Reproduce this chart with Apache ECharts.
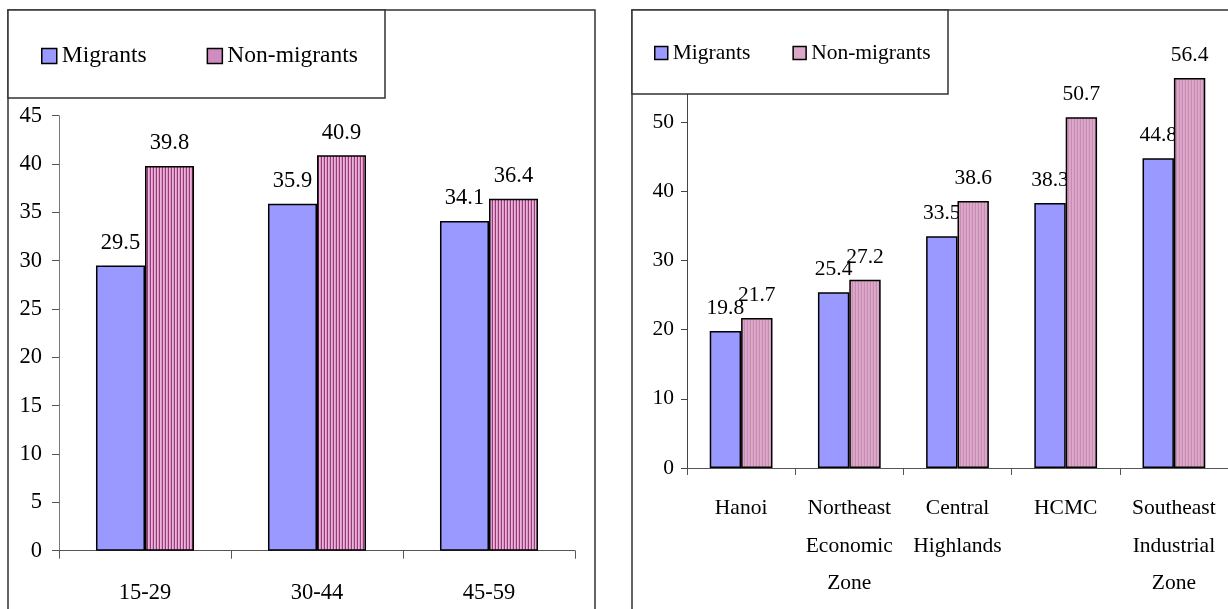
<!DOCTYPE html>
<html>
<head>
<meta charset="utf-8">
<script src="https://cdn.jsdelivr.net/npm/echarts@6/dist/echarts.min.js"></script>
<style>
html,body{margin:0;padding:0;background:#fff;}
#chart{width:1228px;height:609px;}
</style>
</head>
<body>
<div id="chart"></div>
<script>
// ---- data ----
const seriesNames = ['Migrants', 'Non-migrants'];
const ageGroups = ['15-29', '30-44', '45-59'];
const ageMigrants = [29.5, 35.9, 34.1];
const ageNonMigrants = [39.8, 40.9, 36.4];
const ageTicks = [0, 5, 10, 15, 20, 25, 30, 35, 40, 45];

const regions = ['Hanoi', 'Northeast\nEconomic\nZone', 'Central\nHighlands', 'HCMC', 'Southeast\nIndustrial\nZone'];
const regionMigrants = [19.8, 25.4, 33.5, 38.3, 44.8];
const regionNonMigrants = [21.7, 27.2, 38.6, 50.7, 56.4];
const regionTicks = [0, 10, 20, 30, 40, 50];

// ---- patterns ----
function stripes(cols) {
  const c = document.createElement('canvas');
  c.width = cols.length; c.height = 4;
  const g = c.getContext('2d');
  cols.forEach((col, i) => { g.fillStyle = col; g.fillRect(i, 0, 1, 4); });
  return { image: c, repeat: 'repeat' };
}
const leftPink = stripes(['#9A3A70', '#E9B5DE', '#D898C8']);
const rightPink = stripes(['#C68CB2', '#DEAACB', '#D9A3C5']);
const blue = '#9999FF';
const FONT = 'Liberation Serif';

const chart = echarts.init(document.getElementById('chart'), null, { renderer: 'canvas' });

const axisLineStyle = { color: '#555', width: 1 };

const option = {
  animation: false,
  backgroundColor: '#fff',
  textStyle: { fontFamily: FONT, color: '#000' },
  graphic: [
    { type: 'rect', z: 1, shape: { x: 8, y: 10, width: 587, height: 640 }, style: { fill: 'none', stroke: '#333', lineWidth: 1.5 } },
    { type: 'rect', z: 1, shape: { x: 8, y: 10, width: 377, height: 88 }, style: { fill: '#fff', stroke: '#333', lineWidth: 1.5 } },
    { type: 'rect', z: 1, shape: { x: 632, y: 10, width: 640, height: 640 }, style: { fill: 'none', stroke: '#333', lineWidth: 1.5 } },
    { type: 'rect', z: 6, shape: { x: 632, y: 10, width: 316, height: 84 }, style: { fill: '#fff', stroke: '#333', lineWidth: 1.5 } }
  ],
  legend: [
    {
      z: 10, left: 41, top: 44, padding: 0, itemWidth: 15, itemHeight: 15, itemGap: 60,
      icon: 'rect', selectedMode: false,
      textStyle: { fontFamily: FONT, fontSize: 23.5, color: '#000' },
      data: [
        { name: 'Migrants', itemStyle: { color: blue, borderColor: '#000', borderWidth: 1.5 } },
        { name: 'Non-migrants', itemStyle: { color: '#D08CC0', borderColor: '#000', borderWidth: 1.5 } }
      ]
    },
    {
      z: 10, left: 654, top: 42, padding: 0, itemWidth: 13, itemHeight: 13, itemGap: 42,
      icon: 'rect', selectedMode: false,
      textStyle: { fontFamily: FONT, fontSize: 21.5, color: '#000' },
      data: [
        { name: 'Migrants', itemStyle: { color: blue, borderColor: '#000', borderWidth: 1.5 } },
        { name: 'Non-migrants', itemStyle: { color: '#DCA8C8', borderColor: '#000', borderWidth: 1.5 } }
      ]
    }
  ],
  grid: [
    { left: 59, top: 115.7, width: 516, bottom: 58.3 },
    { left: 687, top: 53, width: 543.5, bottom: 141 }
  ],
  xAxis: [
    {
      type: 'category', gridIndex: 0, data: ageGroups,
      axisLine: { lineStyle: axisLineStyle },
      axisTick: { show: true, length: 8, lineStyle: axisLineStyle },
      axisLabel: { fontFamily: FONT, fontSize: 22.5, color: '#000', margin: 31 }
    },
    {
      type: 'category', gridIndex: 1, data: regions,
      axisLine: { lineStyle: axisLineStyle },
      axisTick: { show: true, length: 7, lineStyle: axisLineStyle },
      axisLabel: { fontFamily: FONT, fontSize: 21.5, color: '#000', margin: 22, lineHeight: 37.5, interval: 0 }
    }
  ],
  yAxis: [
    {
      type: 'value', gridIndex: 0, min: ageTicks[0], max: ageTicks[ageTicks.length - 1], interval: 5,
      splitLine: { show: false },
      axisLine: { show: true, lineStyle: { color: '#777', width: 1 } },
      axisTick: { show: true, length: 7, lineStyle: { color: '#555' } },
      axisLabel: { fontFamily: FONT, fontSize: 22.5, color: '#000', margin: 17 }
    },
    {
      type: 'value', gridIndex: 1, min: regionTicks[0], max: 60, interval: 10,
      splitLine: { show: false },
      axisLine: { show: true, lineStyle: { color: '#444', width: 1 } },
      axisTick: { show: true, length: 6, lineStyle: { color: '#444' } },
      axisLabel: { fontFamily: FONT, fontSize: 21.5, color: '#000', margin: 13 }
    }
  ],
  series: [
    {
      name: seriesNames[0], type: 'bar', xAxisIndex: 0, yAxisIndex: 0, data: ageMigrants,
      barGap: '0%', barCategoryGap: '43%', z: 2,
      itemStyle: { color: blue, borderColor: '#000', borderWidth: 1.5 },
      label: { show: true, position: 'top', distance: 11, fontFamily: FONT, fontSize: 22.5, color: '#000' }
    },
    {
      name: seriesNames[1], type: 'bar', xAxisIndex: 0, yAxisIndex: 0, data: ageNonMigrants,
      barGap: '0%', barCategoryGap: '43%', z: 3,
      itemStyle: { color: leftPink, borderColor: '#000', borderWidth: 1.5 },
      label: { show: true, position: 'top', distance: 11, fontFamily: FONT, fontSize: 22.5, color: '#000' }
    },
    {
      name: seriesNames[0], type: 'bar', xAxisIndex: 1, yAxisIndex: 1, data: regionMigrants,
      barGap: '0%', barCategoryGap: '42%', z: 2,
      itemStyle: { color: blue, borderColor: '#000', borderWidth: 1.5 },
      label: { show: true, position: 'top', distance: 12, fontFamily: FONT, fontSize: 21.5, color: '#000' }
    },
    {
      name: seriesNames[1], type: 'bar', xAxisIndex: 1, yAxisIndex: 1, data: regionNonMigrants,
      barGap: '0%', barCategoryGap: '42%', z: 3,
      itemStyle: { color: rightPink, borderColor: '#000', borderWidth: 1.5 },
      label: { show: true, position: 'top', distance: 12, fontFamily: FONT, fontSize: 21.5, color: '#000' }
    }
  ]
};
chart.setOption(option);
</script>
</body>
</html>
